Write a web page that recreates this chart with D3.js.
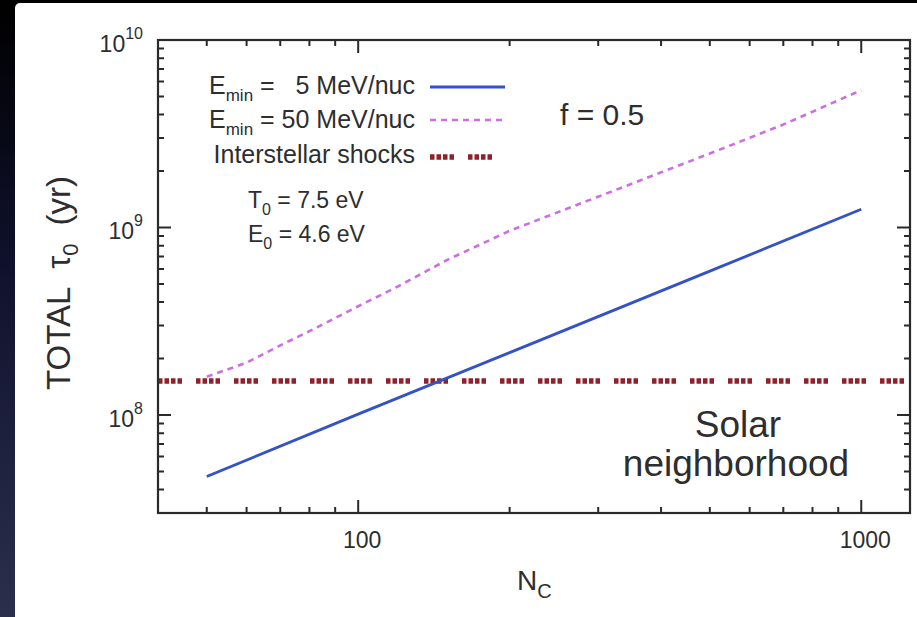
<!DOCTYPE html>
<html>
<head>
<meta charset="utf-8">
<script src="https://cdn.jsdelivr.net/npm/d3@7"></script>
<style>
  html, body { margin: 0; padding: 0; background: #000; }
  svg { display: block; }
  text { font-family: "Liberation Sans", Arial, Helvetica, sans-serif; fill: #2e2e2e; }
</style>
</head>
<body>
<svg id="chart" width="917" height="617"></svg>
<script>
// N_C values where the curves were read
const ncLow = [50, 100, 200, 500, 1000];
// E_min = 5 MeV/nuc (solid blue)
const tauLow = [4.7e7, 1.01e8, 2.15e8, 5.85e8, 1.25e9];

const ncHigh = [50, 60, 70, 80, 100, 120, 150, 200, 300, 500, 700, 1000];
// E_min = 50 MeV/nuc (dashed violet)
const tauHigh = [1.6e8, 1.9e8, 2.35e8, 2.8e8, 3.8e8, 4.85e8, 6.7e8, 9.6e8, 1.46e9, 2.48e9, 3.54e9, 5.4e9];

// interstellar shocks level
const shockTau = 1.52e8;

const xMajor = [100, 1000];
const xMinor = [50, 60, 70, 80, 90, 200, 300, 400, 500, 600, 700, 800, 900];
const yMajor = [1e8, 1e9, 1e10];
const yMinor = [4e7, 5e7, 6e7, 7e7, 8e7, 9e7,
  2e8, 3e8, 4e8, 5e8, 6e8, 7e8, 8e8, 9e8,
  2e9, 3e9, 4e9, 5e9, 6e9, 7e9, 8e9, 9e9];
const yTickExp = ['8', '9', '10'];

const svg = d3.select('#chart');

// 背景（左側の暗いグラデーション）
const defs = svg.append('defs');
const grad = defs.append('linearGradient')
  .attr('id', 'bg').attr('x1', 0).attr('y1', 0).attr('x2', 0).attr('y2', 1);
grad.append('stop').attr('offset', '0%').attr('stop-color', '#000000');
grad.append('stop').attr('offset', '45%').attr('stop-color', '#10122e');
grad.append('stop').attr('offset', '100%').attr('stop-color', '#2c2f4c');
svg.append('rect').attr('width', 917).attr('height', 617).attr('fill', 'url(#bg)');
svg.append('rect')
  .attr('x', 15).attr('y', 3).attr('width', 910).attr('height', 620)
  .attr('rx', 5).attr('fill', '#ffffff');

const plot = { left: 158, right: 910, top: 40, bottom: 513 };

const x = d3.scaleLog().domain([40, 1250]).range([plot.left, plot.right]);
const y = d3.scaleLog().domain([3e7, 1e10]).range([plot.bottom, plot.top]);

const axisColor = '#2a2a2a';

// データ線
const clip = defs.append('clipPath').attr('id', 'plotClip');
clip.append('rect')
  .attr('x', plot.left).attr('y', plot.top)
  .attr('width', plot.right - plot.left).attr('height', plot.bottom - plot.top);

const line = d3.line().x(d => x(d[0])).y(d => y(d[1]));
const lines = svg.append('g').attr('clip-path', 'url(#plotClip)');

const shockDash = '4.5,2,4.5,2,4.5,2,4.5,14';

lines.append('path')
  .attr('d', line(x.domain().map(n => [n, shockTau])))
  .attr('fill', 'none')
  .attr('stroke', '#92202c')
  .attr('stroke-width', 5.5)
  .attr('stroke-dasharray', shockDash);

lines.append('path')
  .attr('d', line(ncHigh.map((n, i) => [n, tauHigh[i]])))
  .attr('fill', 'none')
  .attr('stroke', '#cc6fe0')
  .attr('stroke-width', 2.6)
  .attr('stroke-dasharray', '6,5');

lines.append('path')
  .attr('d', line(ncLow.map((n, i) => [n, tauLow[i]])))
  .attr('fill', 'none')
  .attr('stroke', '#3452c8')
  .attr('stroke-width', 2.8);

// 枠
svg.append('rect')
  .attr('x', plot.left).attr('y', plot.top)
  .attr('width', plot.right - plot.left).attr('height', plot.bottom - plot.top)
  .attr('fill', 'none').attr('stroke', axisColor).attr('stroke-width', 2.2);

// 目盛り（内向き・四辺）
const majorLen = 13, minorLen = 6;
let tickPath = '';
function addXTicks(vals, len) {
  vals.forEach(v => {
    const px = x(v);
    tickPath += `M${px},${plot.bottom}V${plot.bottom - len}`;
    tickPath += `M${px},${plot.top}V${plot.top + len}`;
  });
}
function addYTicks(vals, len) {
  vals.forEach(v => {
    const py = y(v);
    tickPath += `M${plot.left},${py}H${plot.left + len}`;
    tickPath += `M${plot.right},${py}H${plot.right - len}`;
  });
}
addXTicks(xMajor, majorLen);
addXTicks(xMinor, minorLen);
addYTicks(yMajor, majorLen);
addYTicks(yMinor, minorLen);

svg.append('path')
  .attr('d', tickPath)
  .attr('fill', 'none')
  .attr('stroke', axisColor)
  .attr('stroke-width', 2);

// 目盛りラベル
xMajor.forEach(v => {
  svg.append('text')
    .attr('x', x(v) + 4).attr('y', 548)
    .attr('text-anchor', 'middle')
    .style('font-size', '23px')
    .text(v);
});

yMajor.forEach((v, i) => {
  const t = svg.append('text')
    .attr('x', 143).attr('y', y(v) + 12)
    .attr('text-anchor', 'end')
    .style('font-size', '23px');
  t.append('tspan').text('10');
  t.append('tspan').attr('dy', -13).style('font-size', '16px').text(yTickExp[i]);
});

// 軸タイトル
const xt = svg.append('text')
  .attr('x', 517).attr('y', 590)
  .style('font-size', '28px');
xt.append('tspan').text('N');
xt.append('tspan').attr('dy', 8).style('font-size', '20px').text('C');

const yt = svg.append('text')
  .attr('transform', 'translate(70,390) rotate(-90)')
  .style('font-size', '33px');
yt.append('tspan').text('TOTAL');
yt.append('tspan').attr('dx', 18).text('τ');
yt.append('tspan').attr('dy', 8).style('font-size', '22px').text('0');
yt.append('tspan').attr('dy', -8).attr('dx', 18).text('(yr)');

// 凡例
const legendRows = [
  { pre: 'E', sub: 'min', post: ' =   5 MeV/nuc', ty: 94, ly: 87,
    stroke: '#3452c8', width: 2.8, dash: null },
  { pre: 'E', sub: 'min', post: ' = 50 MeV/nuc', ty: 128, ly: 120,
    stroke: '#cc6fe0', width: 2.6, dash: '6,5' },
  { pre: 'Interstellar shocks', sub: null, post: '', ty: 163, ly: 157,
    stroke: '#92202c', width: 5.5, dash: shockDash }
];

legendRows.forEach(r => {
  const t = svg.append('text')
    .attr('x', 415).attr('y', r.ty)
    .attr('text-anchor', 'end')
    .style('font-size', '25px')
    .style('white-space', 'pre')
    .attr('xml:space', 'preserve');
  t.append('tspan').text(r.pre);
  if (r.sub) {
    t.append('tspan').attr('dy', 7).style('font-size', '17px').text(r.sub);
    t.append('tspan').attr('dy', -7).text(r.post);
  }
  svg.append('line')
    .attr('x1', 430).attr('x2', 505)
    .attr('y1', r.ly).attr('y2', r.ly)
    .attr('stroke', r.stroke)
    .attr('stroke-width', r.width)
    .attr('stroke-dasharray', r.dash);
});

// 注記
[['T', '0', ' = 7.5 eV', 208], ['E', '0', ' = 4.6 eV', 242]].forEach(([a, s, b, yy]) => {
  const t = svg.append('text')
    .attr('x', 248).attr('y', yy)
    .style('font-size', '23px');
  t.append('tspan').text(a);
  t.append('tspan').attr('dy', 7).style('font-size', '16px').text(s);
  t.append('tspan').attr('dy', -7).text(b);
});

svg.append('text')
  .attr('x', 560).attr('y', 125)
  .style('font-size', '30px')
  .text('f = 0.5');

svg.append('text')
  .attr('x', 738).attr('y', 437)
  .attr('text-anchor', 'middle')
  .style('font-size', '37px')
  .text('Solar');
svg.append('text')
  .attr('x', 736).attr('y', 476)
  .attr('text-anchor', 'middle')
  .style('font-size', '37px')
  .text('neighborhood');
</script>
</body>
</html>
